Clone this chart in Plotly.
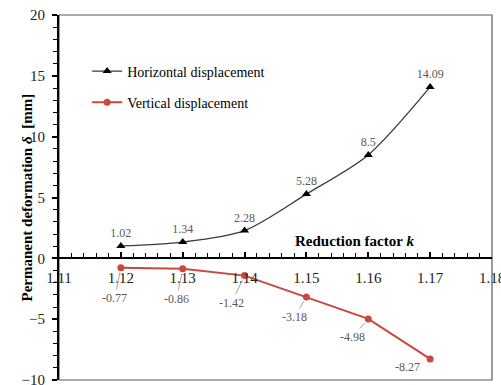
import plotly.graph_objects as go

k_values = [1.12, 1.13, 1.14, 1.15, 1.16, 1.17]
horizontal = [1.02, 1.34, 2.28, 5.28, 8.5, 14.09]
vertical = [-0.77, -0.86, -1.42, -3.18, -4.98, -8.27]
x_ticks = [1.11, 1.12, 1.13, 1.14, 1.15, 1.16, 1.17, 1.18]
y_ticks = [-10, -5, 0, 5, 10, 15, 20]

# label offsets in pixels (style only)
v_label_ax = [-6, -6, -13, -12, -16, -23]
v_label_ay = [30, 30, 27, 20, 18, 8]
v_leader = [True, True, True, True, True, False]

FONT = "Liberation Serif, Times New Roman, serif"
RED = "#C9473D"

fig = go.Figure()
fig.add_trace(go.Scatter(
    x=k_values, y=horizontal, name="Horizontal displacement", legendgroup="h",
    mode="lines+markers+text",
    line=dict(color="#3a3a3a", width=1.3, shape="spline", smoothing=0.8),
    marker=dict(symbol="triangle-up", size=8, color="black"),
    text=[f"{v:g}" for v in horizontal], textposition="top center",
    textfont=dict(family=FONT, size=12, color="#595959"),
))
fig.add_trace(go.Scatter(
    x=k_values, y=vertical, name="Vertical displacement", legendgroup="v",
    mode="lines+markers",
    line=dict(color=RED, width=2),
    marker=dict(symbol="circle", size=7, color=RED),
))

for x, y, ax, ay, lead in zip(k_values, vertical, v_label_ax, v_label_ay, v_leader):
    if lead:
        fig.add_annotation(
            x=x, y=y, text=f"{y:g}", showarrow=True, ax=ax, ay=ay,
            arrowhead=0, arrowwidth=1, arrowcolor="#a6a6a6", standoff=5,
            font=dict(family=FONT, size=12, color="#595959"),
        )
    else:
        fig.add_annotation(
            x=x, y=y, text=f"{y:g}", showarrow=False, xshift=ax, yshift=-ay,
            font=dict(family=FONT, size=12, color="#595959"),
        )

fig.add_annotation(
    xref="paper", yref="paper", x=-0.097, y=0.5, text="<b>Permanent deformation <i>δ</i>  [mm]</b>",
    textangle=-90, showarrow=False, font=dict(family=FONT, size=15, color="black"),
)
fig.add_annotation(
    xref="x", yref="y", x=1.1577, y=1.4, text="<b>Reduction factor <i>k</i></b>",
    showarrow=False, font=dict(family=FONT, size=15, color="black"),
)

# plot frame
fig.add_shape(type="rect", xref="paper", yref="paper", x0=0, y0=0, x1=1, y1=1,
              line=dict(color="#595959", width=1.2), layer="below")

fig.update_layout(
    width=501, height=385,
    margin=dict(l=59, r=9, t=15, b=5, autoexpand=False),
    paper_bgcolor="white", plot_bgcolor="white",
    font=dict(family=FONT, size=14, color="black"),
    showlegend=True,
    legend=dict(x=0.065, y=0.889, xanchor="left", yanchor="top",
                bgcolor="rgba(0,0,0,0)", font=dict(family=FONT, size=14, color="black"),
                itemwidth=30, tracegroupgap=10),
    xaxis=dict(
        range=[1.11, 1.18], tickvals=x_ticks, ticktext=[f"{v:.2f}" for v in x_ticks],
        showgrid=False, zeroline=False, showline=True, linecolor="black", linewidth=2,
        anchor="free", position=1/3, ticks="inside", ticklen=5, tickcolor="black", tickwidth=1.5,
        minor=dict(dtick=0.002, ticks="inside", ticklen=4, tickcolor="black", tickwidth=1.2, showgrid=False),
        tickfont=dict(family=FONT, size=15, color="#222222"),
        ticklabeloverflow="allow", ticklabelstandoff=6, automargin=False,
    ),
    yaxis=dict(
        range=[-10, 20], tickvals=y_ticks, showgrid=False, zeroline=False,
        showline=True, linecolor="black", linewidth=2,
        ticks="outside", ticklen=5, tickcolor="black", tickwidth=1.5,
        minor=dict(dtick=1, ticks="outside", ticklen=4, tickcolor="black", tickwidth=1.2, showgrid=False),
        tickfont=dict(family=FONT, size=15, color="#222222"),
        ticklabeloverflow="allow", ticklabelstandoff=4, automargin=False,
    ),
)

fig.write_html("out.html")
